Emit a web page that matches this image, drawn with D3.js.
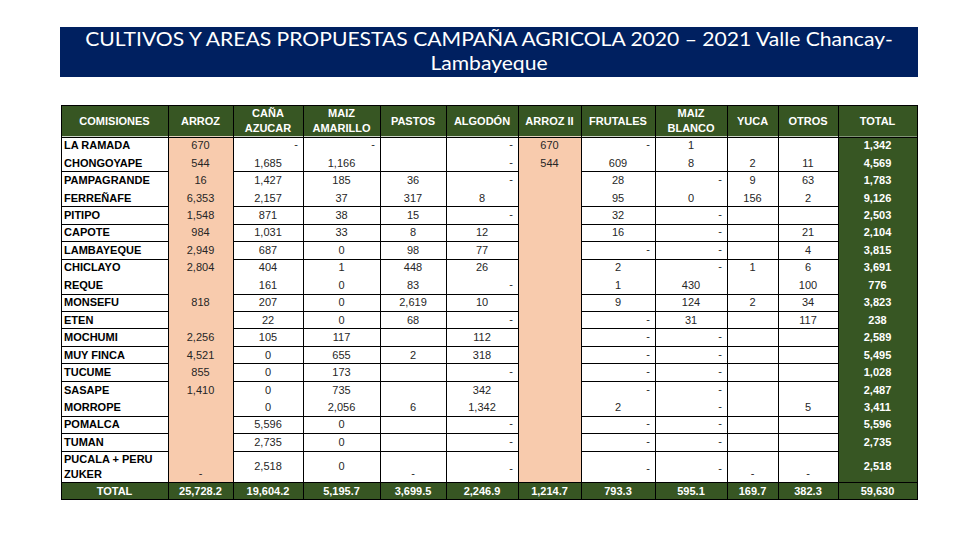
<!DOCTYPE html>
<html>
<head>
<meta charset="utf-8">
<script src="https://cdn.jsdelivr.net/npm/d3@7"></script>
<style>
  html, body { margin: 0; padding: 0; background: #ffffff; }
  svg { display: block; }
</style>
</head>
<body>
<svg id="chart" width="960" height="540"></svg>
<script>
// ---------------- DATA ----------------
const titleLines = ["CULTIVOS  Y AREAS PROPUESTAS  CAMPAÑA AGRICOLA 2020 – 2021 Valle Chancay-", "Lambayeque"];

const firstHeader = "COMISIONES";
const cultivos = ["ARROZ", "CAÑA\nAZUCAR", "MAIZ\nAMARILLO", "PASTOS", "ALGODÓN", "ARROZ II", "FRUTALES", "MAIZ\nBLANCO", "YUCA", "OTROS", "TOTAL"];

const comisiones = ["LA RAMADA", "CHONGOYAPE", "PAMPAGRANDE", "FERREÑAFE", "PITIPO", "CAPOTE", "LAMBAYEQUE", "CHICLAYO", "REQUE", "MONSEFU", "ETEN", "MOCHUMI", "MUY FINCA", "TUCUME", "SASAPE", "MORROPE", "POMALCA", "TUMAN", "PUCALA + PERU\nZUKER"];

// merged comisión pairs (cells shared, no separator line)
const mergedPairs = [[0, 1], [2, 3], [7, 8], [14, 15]];

const arroz       = [670, 544, 16, 6353, 1548, 984, 2949, 2804, null, 818, null, 2256, 4521, 855, 1410, null, null, null, "-"];
const canaAzucar  = ["-", 1685, 1427, 2157, 871, 1031, 687, 404, 161, 207, 22, 105, 0, 0, 0, 0, 5596, 2735, 2518];
const maizAmarillo= ["-", 1166, 185, 37, 38, 33, 0, 1, 0, 0, 0, 117, 655, 173, 735, 2056, 0, 0, 0];
const pastos      = [null, null, 36, 317, 15, 8, 98, 448, 83, 2619, 68, null, 2, null, null, 6, null, null, "-"];
const algodon     = ["-", "-", "-", 8, "-", 12, 77, 26, "-", 10, "-", 112, 318, "-", 342, 1342, "-", "-", "-"];
const arrozII     = [670, 544, null, null, null, null, null, null, null, null, null, null, null, null, null, null, null, null, null];
const frutales    = ["-", 609, 28, 95, 32, 16, "-", 2, 1, 9, "-", "-", "-", "-", "-", 2, "-", "-", "-"];
const maizBlanco  = [1, 8, "-", 0, "-", "-", "-", "-", 430, 124, 31, "-", "-", "-", "-", "-", "-", "-", "-"];
const yuca        = [null, 2, 9, 156, null, null, null, 1, null, 2, null, null, null, null, null, null, null, null, "-"];
const otros       = [null, 11, 63, 2, null, 21, 4, 6, 100, 34, 117, null, null, null, null, 5, null, null, "-"];
const total       = [1342, 4569, 1783, 9126, 2503, 2104, 3815, 3691, 776, 3823, 238, 2589, 5495, 1028, 2487, 3411, 5596, 2735, 2518];

const totalLabel = "TOTAL";
const totalsRow  = [25728.2, 19604.2, 5195.7, 3699.5, 2246.9, 1214.7, 793.3, 595.1, 169.7, 382.3, 59630];

const series = [arroz, canaAzucar, maizAmarillo, pastos, algodon, arrozII, frutales, maizBlanco, yuca, otros, total];

// ---------------- LAYOUT ----------------
const svg = d3.select("#chart");
const colEdges = [61, 168, 233, 303, 380, 446, 518, 581, 655, 727, 778, 838, 917];
const headerTop = 105, bodyTop = 136.5, rowH = 17.45, lastRowBottom = 482, tableBottom = 499;

const C = {
  navy: "#002060", green: "#375623", peach: "#f8cbad", line: "#000000",
  text: "#262626", white: "#ffffff"
};
const peachCols = new Set([0, 5]);      // indices into series
const totalCol = 10;
const bottomDash = new Set([0, 3, 8, 9]); // dash drawn low/centered in the double row

// column scales: key 0 = comisiones, 1..11 = series
const colKeys = d3.range(colEdges.length - 1);
const xLeft = d3.scaleOrdinal().domain(colKeys).range(colEdges.slice(0, -1));
const xRight = d3.scaleOrdinal().domain(colKeys).range(colEdges.slice(1));
const xMid = k => (xLeft(k) + xRight(k)) / 2;

const yRow = d3.scaleLinear().domain([0, 18]).range([bodyTop, bodyTop + 18 * rowH]);
const rowTop = i => yRow(i);
const rowBottom = i => i === 18 ? lastRowBottom : yRow(i + 1);
const rowMid = i => (rowTop(i) + rowBottom(i)) / 2;

// ---------------- TITLE ----------------
svg.append("rect").attr("x", 60).attr("y", 27).attr("width", 858).attr("height", 50).attr("fill", C.navy);
const tg = svg.append("g");
const tl = tg.selectAll("text").data(titleLines).join("text")
  .attr("y", (d, i) => 46.5 + i * 24)
  .attr("text-anchor", "middle")
  .attr("fill", C.white)
  .attr("font-family", "Lato, 'Open Sans', sans-serif")
  .attr("font-size", 19.5)
  .text(d => d);
const w0 = tl.nodes()[0].getComputedTextLength();
const sx = 808 / w0;
tl.attr("transform", `translate(489,0) scale(${sx},1)`).attr("x", 0);

// ---------------- TABLE BACKGROUNDS ----------------
const g = svg.append("g");
// header
g.append("rect").attr("x", colEdges[0]).attr("y", headerTop).attr("width", colEdges[12] - colEdges[0]).attr("height", bodyTop - headerTop).attr("fill", C.green);
// body white
g.append("rect").attr("x", colEdges[0]).attr("y", bodyTop).attr("width", colEdges[12] - colEdges[0]).attr("height", lastRowBottom - bodyTop).attr("fill", C.white);
// peach columns and total column
series.forEach((s, j) => {
  const k = j + 1;
  if (peachCols.has(j) || j === totalCol) {
    g.append("rect").attr("x", xLeft(k)).attr("y", bodyTop).attr("width", xRight(k) - xLeft(k)).attr("height", lastRowBottom - bodyTop)
      .attr("fill", j === totalCol ? C.green : C.peach);
  }
});
// totals row
g.append("rect").attr("x", colEdges[0]).attr("y", lastRowBottom).attr("width", colEdges[12] - colEdges[0]).attr("height", tableBottom - lastRowBottom).attr("fill", C.green);

// ---------------- GRID LINES ----------------
const lines = svg.append("g").attr("stroke", C.line).attr("stroke-width", 1).attr("shape-rendering", "crispEdges");
const mergedAfter = new Set(mergedPairs.map(p => p[0]));
d3.range(0, 18).forEach(i => {
  if (mergedAfter.has(i)) return;
  const y = Math.round(rowBottom(i)) + 0.5;
  colKeys.forEach(k => {
    const j = k - 1;
    if (k > 0 && (peachCols.has(j) || j === totalCol)) return;
    lines.append("line").attr("x1", xLeft(k)).attr("x2", xRight(k)).attr("y1", y).attr("y2", y);
  });
});
// header bottom & total row top
[bodyTop, lastRowBottom].forEach(yy => {
  const y = Math.round(yy) + 0.5;
  lines.append("line").attr("x1", colEdges[0]).attr("x2", colEdges[12]).attr("y1", y).attr("y2", y);
});
// vertical lines
colEdges.forEach(x => {
  const xx = Math.round(x) + 0.5;
  lines.append("line").attr("x1", xx).attr("x2", xx).attr("y1", headerTop).attr("y2", tableBottom);
});
// outer border
lines.append("rect").attr("x", colEdges[0] + 0.5).attr("y", headerTop + 0.5)
  .attr("width", colEdges[12] - colEdges[0]).attr("height", tableBottom - headerTop).attr("fill", "none");

// ---------------- HEADER TEXT ----------------
const font = "'Liberation Sans', Arial, sans-serif";
const hdr = svg.append("g").attr("font-family", font).attr("font-weight", "bold").attr("font-size", 11).attr("fill", C.white).attr("text-anchor", "middle");
[firstHeader].concat(cultivos).forEach((label, k) => {
  const parts = label.split("\n");
  const cy = (headerTop + bodyTop) / 2;
  parts.forEach((p, n) => {
    hdr.append("text").attr("x", xMid(k)).attr("y", cy + 4 + (n - (parts.length - 1) / 2) * 15).text(p);
  });
});

// ---------------- BODY TEXT ----------------
const fmtInt = d3.format(",");
const fmtDec = d3.format(",.1f");
const labels = svg.append("g").attr("font-family", font).attr("font-weight", "bold").attr("font-size", 11).attr("fill", "#000");
comisiones.forEach((name, i) => {
  const parts = name.split("\n");
  if (parts.length === 1) {
    labels.append("text").attr("x", colEdges[0] + 3).attr("y", rowMid(i) + 4).text(name);
  } else {
    parts.forEach((p, n) => labels.append("text").attr("x", colEdges[0] + 3).attr("y", rowTop(i) + 12 + n * 15).text(p));
  }
});

const body = svg.append("g").attr("font-family", font).attr("font-size", 11);
series.forEach((s, j) => {
  const k = j + 1;
  s.forEach((v, i) => {
    if (v === null || v === undefined) return;
    const isTotal = j === totalCol;
    const t = body.append("text").attr("fill", isTotal ? C.white : C.text).attr("font-weight", isTotal ? "bold" : "normal");
    if (v === "-") {
      if (i === 18 && bottomDash.has(j)) {
        t.attr("x", xMid(k)).attr("y", rowBottom(i) - 5).attr("text-anchor", "middle");
      } else {
        t.attr("x", xRight(k) - 5).attr("y", rowMid(i) + (i === 18 ? 6 : 3)).attr("text-anchor", "end");
      }
      t.text("-");
    } else {
      t.attr("x", xMid(k)).attr("y", rowMid(i) + 4).attr("text-anchor", "middle").text(fmtInt(v));
    }
  });
});

// ---------------- TOTAL ROW ----------------
const tr = svg.append("g").attr("font-family", font).attr("font-weight", "bold").attr("font-size", 11).attr("fill", C.white).attr("text-anchor", "middle");
const trY = (lastRowBottom + tableBottom) / 2 + 4;
tr.append("text").attr("x", xMid(0)).attr("y", trY).text(totalLabel);
totalsRow.forEach((v, j) => {
  tr.append("text").attr("x", xMid(j + 1)).attr("y", trY).text(j === totalCol ? fmtInt(v) : fmtDec(v));
});
</script>
</body>
</html>
